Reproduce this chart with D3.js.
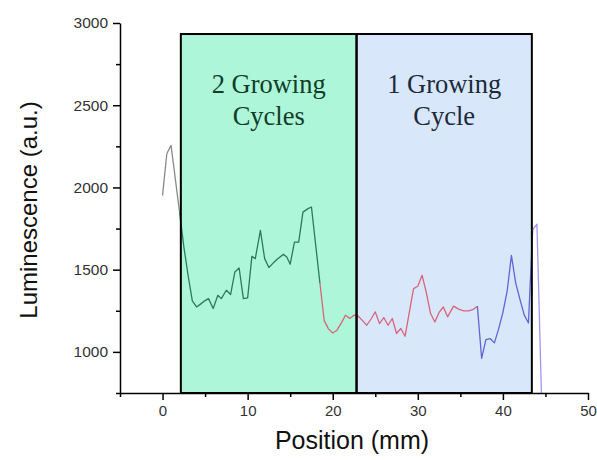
<!DOCTYPE html>
<html>
<head>
<meta charset="utf-8">
<script src="https://cdn.jsdelivr.net/npm/d3@7"></script>
<style>
  body { margin: 0; background: #fff; }
  svg { display: block; }
</style>
</head>
<body>
<figure style="margin:0"></figure>
<script>
const width = 597
const height = 460

// luminescence profile, split by colour
const grayPts = [[0, 1950], [0.5, 2205], [1.0, 2256], [2.0, 1850]]
const greenPts = [[2.0, 1850], [2.5, 1640], [3.0, 1466], [3.5, 1310], [4.0, 1273], [4.5, 1292], [5.0, 1312],
  [5.4, 1324], [5.95, 1264], [6.5, 1344], [6.9, 1324], [7.5, 1375], [8.0, 1349], [8.5, 1486], [9.0, 1510],
  [9.5, 1324], [10.0, 1328], [10.5, 1581], [10.9, 1567], [11.5, 1739], [12.0, 1567], [12.5, 1513],
  [13.0, 1540], [13.5, 1565], [14.2, 1593], [14.6, 1577], [15.0, 1533], [15.5, 1668], [16.0, 1668],
  [16.5, 1850], [17.1, 1871], [17.5, 1881], [18.5, 1416]]
const redPts = [[18.5, 1416], [19.0, 1190], [19.5, 1140], [20.0, 1115], [20.5, 1132], [21.0, 1175],
  [21.5, 1223], [22.0, 1203], [22.5, 1223], [23.0, 1217], [23.5, 1190], [24.0, 1162], [24.5, 1200],
  [25.0, 1243], [25.5, 1172], [26.0, 1209], [26.5, 1162], [27.0, 1203], [27.5, 1112], [28.0, 1142],
  [28.5, 1095], [29.0, 1240], [29.5, 1385], [30.0, 1399], [30.5, 1466], [31.0, 1360], [31.5, 1233],
  [32.0, 1182], [32.5, 1240], [33.0, 1273], [33.5, 1213], [34.2, 1278], [34.8, 1260], [35.4, 1249],
  [36.0, 1250], [36.5, 1258], [37.0, 1278]]
const bluePts = [[37.0, 1278], [37.5, 960], [38.0, 1075], [38.5, 1081], [39.0, 1055], [39.5, 1140],
  [40.0, 1240], [40.5, 1370], [41.0, 1587], [41.5, 1420], [42.0, 1320], [42.5, 1225], [43.0, 1176],
  [43.5, 1744]]
const lavenderPts = [[43.5, 1744], [44.0, 1776], [44.6, 600]]

const segments = [
  { pts: grayPts, color: '#8a8a8a' },
  { pts: greenPts, color: '#2c7a5e' },
  { pts: redPts, color: '#d9647a' },
  { pts: bluePts, color: '#6464d6' },
  { pts: lavenderPts, color: '#a494f2' }
]

const regions = [
  { x0: 2.15, x1: 22.8, fill: '#adf6da', text: ['2 Growing', 'Cycles'], textColor: '#123d26' },
  { x0: 22.8, x1: 43.4, fill: '#d8e8fa', text: ['1 Growing', 'Cycle'], textColor: '#1c2a3a' }
]
const regionTop = 2933

const xTicks = [0, 10, 20, 30, 40, 50]
const xMinor = [-5, 5, 15, 25, 35, 45]
const yTicks = [1000, 1500, 2000, 2500, 3000]
const yMinor = [750, 1250, 1750, 2250, 2750]

const x = d3.scaleLinear().domain([-5, 50]).range([120, 588])
const y = d3.scaleLinear().domain([750, 3000]).range([393, 23])

const svg = d3.select('figure').append('svg')
  .attr('width', width)
  .attr('height', height)

svg.append('defs').append('clipPath')
  .attr('id', 'plot')
  .append('rect')
  .attr('x', x(-5))
  .attr('y', y(3000))
  .attr('width', x(50) - x(-5))
  .attr('height', y(750) - y(3000))

// shaded regions
svg.selectAll('rect.region')
  .data(regions)
  .join('rect')
  .attr('class', 'region')
  .attr('x', d => x(d.x0))
  .attr('y', y(regionTop))
  .attr('width', d => x(d.x1) - x(d.x0))
  .attr('height', d => y(750) - y(regionTop))
  .attr('fill', d => d.fill)

// profile
const line = d3.line().x(d => x(d[0])).y(d => y(d[1]))

svg.append('g')
  .attr('clip-path', 'url(#plot)')
  .selectAll('path')
  .data(segments)
  .join('path')
  .attr('d', d => line(d.pts))
  .attr('fill', 'none')
  .attr('stroke', d => d.color)
  .attr('stroke-width', 1.3)
  .attr('stroke-linejoin', 'round')

// region borders on top of the line
svg.selectAll('rect.border')
  .data(regions)
  .join('rect')
  .attr('class', 'border')
  .attr('x', d => x(d.x0))
  .attr('y', y(regionTop))
  .attr('width', d => x(d.x1) - x(d.x0))
  .attr('height', d => y(750) - y(regionTop))
  .attr('fill', 'none')
  .attr('stroke', '#000')
  .attr('stroke-width', 2)

regions.forEach(r => {
  const cx = (x(r.x0) + x(r.x1)) / 2
  const t = svg.append('text')
    .attr('x', cx)
    .attr('y', 93)
    .attr('text-anchor', 'middle')
    .attr('font-family', '"Liberation Serif", "Times New Roman", serif')
    .attr('font-size', 26.5)
    .attr('fill', r.textColor)
  r.text.forEach((s, i) => {
    t.append('tspan')
      .attr('x', cx)
      .attr('dy', i === 0 ? 0 : 32)
      .text(s)
  })
})

// axes
const font = '"Liberation Sans", Arial, sans-serif'

const xAxis = svg.append('g')
  .attr('transform', `translate(0,${y(750)})`)
  .call(d3.axisBottom(x).tickValues(xTicks).tickSize(7).tickPadding(5).tickSizeOuter(0))
xAxis.selectAll('text').attr('font-family', font).attr('font-size', 15).attr('fill', '#333')
xAxis.select('.domain').attr('stroke-width', 1.5)
xAxis.selectAll('.tick line').attr('stroke-width', 1.5)
svg.append('g')
  .attr('transform', `translate(0,${y(750)})`)
  .call(d3.axisBottom(x).tickValues(xMinor).tickSize(4).tickFormat('').tickSizeOuter(0))
  .call(g => g.select('.domain').remove())
  .selectAll('.tick line').attr('stroke-width', 1.5)

const yAxis = svg.append('g')
  .attr('transform', `translate(${x(-5)},0)`)
  .call(d3.axisLeft(y).tickValues(yTicks).tickFormat(d3.format('d')).tickSize(7).tickPadding(5).tickSizeOuter(0))
yAxis.selectAll('text').attr('font-family', font).attr('font-size', 15.5).attr('fill', '#333')
yAxis.select('.domain').attr('stroke-width', 1.5)
yAxis.selectAll('.tick line').attr('stroke-width', 1.5)
svg.append('g')
  .attr('transform', `translate(${x(-5)},0)`)
  .call(d3.axisLeft(y).tickValues(yMinor).tickSize(4).tickFormat('').tickSizeOuter(0))
  .call(g => g.select('.domain').remove())
  .selectAll('.tick line').attr('stroke-width', 1.5)

svg.append('text')
  .attr('x', 352)
  .attr('y', 449)
  .attr('text-anchor', 'middle')
  .attr('font-family', font)
  .attr('font-size', 25)
  .attr('fill', '#111')
  .text('Position (mm)')

svg.append('text')
  .attr('transform', 'translate(37,210) rotate(-90)')
  .attr('text-anchor', 'middle')
  .attr('font-family', font)
  .attr('font-size', 24)
  .attr('fill', '#111')
  .text('Luminescence (a.u.)')
</script>
</body>
</html>
